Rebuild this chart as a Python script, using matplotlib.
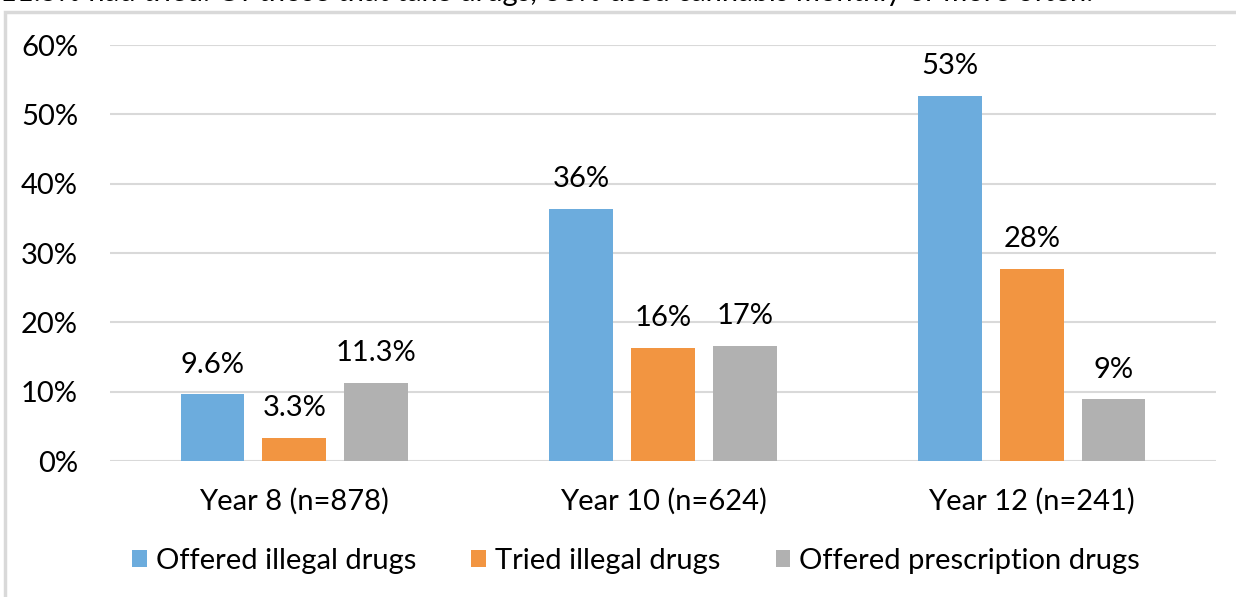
import numpy as np
import matplotlib.pyplot as plt
from matplotlib.patches import Rectangle

# data
groups = ["Year 8 (n=878)", "Year 10 (n=624)", "Year 12 (n=241)"]
series = ["Offered illegal drugs", "Tried illegal drugs", "Offered prescription drugs"]
offered_illegal = [9.6, 36.4, 52.7]
tried_illegal = [3.3, 16.3, 27.7]
offered_presc = [11.3, 16.6, 8.9]
labels_offered_illegal = ["9.6%", "36%", "53%"]
labels_tried_illegal = ["3.3%", "16%", "28%"]
labels_offered_presc = ["11.3%", "17%", "9%"]
colors = ["#6CACDD", "#F29541", "#B1B1B1"]
top_text = "11.5% had tried. Of those that take drugs, 36% used cannabis monthly or more often."

plt.rcParams['font.family'] = ['Lato', 'DejaVu Sans']
fs = 21

fig = plt.figure(figsize=(12.36, 5.97), dpi=100)
ax = fig.add_axes([110/1236, 1-461/597, (1216-110)/1236, (461-45)/597])

x = np.arange(len(groups))
w = 0.173
step = 0.222
vals = [offered_illegal, tried_illegal, offered_presc]
labs = [labels_offered_illegal, labels_tried_illegal, labels_offered_presc]
for i in range(3):
    bars = ax.bar(x + (i-1)*step, vals[i], w, color=colors[i], label=series[i], zorder=3)
    for b, t in zip(bars, labs[i]):
        ax.annotate(t, (b.get_x()+b.get_width()/2, b.get_height()), xytext=(0, 12),
                    textcoords="offset points", ha="center", va="bottom", fontsize=fs)

ax.set_xlim(-0.5, 2.5)
ax.set_ylim(0, 60)
ax.set_yticks(range(0, 61, 10))
ax.set_yticklabels([f"{v}%" for v in range(0, 61, 10)], fontsize=fs)
ax.set_xticks(x)
ax.set_xticklabels(groups, fontsize=fs)
ax.tick_params(length=0)
ax.tick_params(axis='y', pad=23)
ax.tick_params(axis='x', pad=19)
ax.grid(axis='y', color='#D9D9D9', linewidth=1.5, zorder=0)
for s in ax.spines.values():
    s.set_visible(False)

fig.legend(loc='center', bbox_to_anchor=(636/1236, 1-561/597), ncol=3, frameon=False,
           fontsize=fs, handlelength=0.5, handleheight=0.5, handletextpad=0.3,
           columnspacing=1.9)

fig.patches.append(Rectangle((5/1236, -0.1), 1.2, 1-12/597+0.1, transform=fig.transFigure,
                             fill=False, edgecolor='#D9D9D9', linewidth=2.5))
fig.text(0, 1-1/597, top_text, ha='left', va='baseline', fontsize=fs)

fig.savefig("out.png", dpi=100)
